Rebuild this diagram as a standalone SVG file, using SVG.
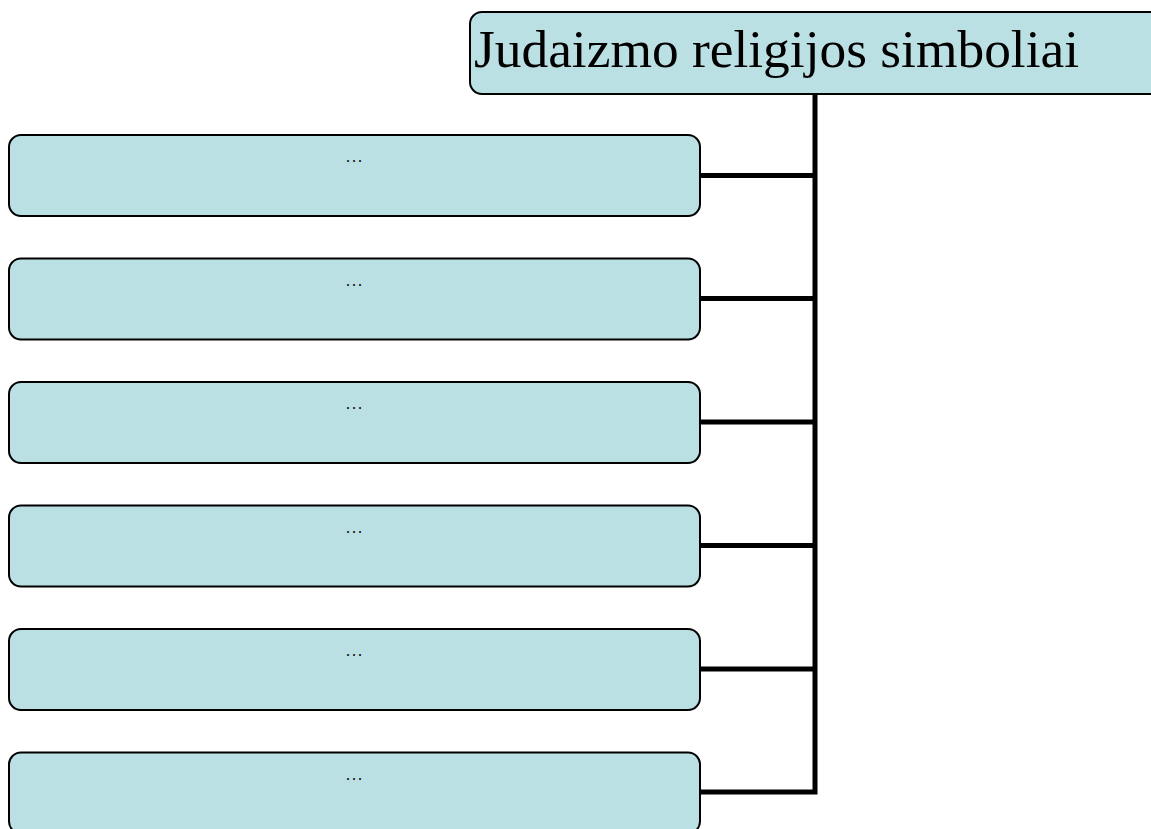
<svg xmlns="http://www.w3.org/2000/svg" width="1151" height="829" viewBox="0 0 1151 829">
<style>
.box{fill:#BBE0E3;stroke:#000;stroke-width:2}
.dots{font-family:"Liberation Serif",serif;font-size:16px;letter-spacing:2px;fill:#000;text-anchor:middle}
.title{font-family:"Liberation Serif",serif;font-size:53.4px;fill:#000}
.conn{fill:none;stroke:#000;stroke-width:5}
</style>
<rect width="1151" height="829" fill="#fff"/>
<g id="connectors">
<path class="conn" d="M815,94 V792 H700"/>
<path class="conn" d="M700,175.5 H815 M700,298.5 H815 M700,422 H815 M700,545.5 H815 M700,669 H815"/>
</g>
<g id="root">
<rect class="box" x="470" y="12" width="695" height="82" rx="12"/>
<text class="title" x="474" y="67">Judaizmo religijos simboliai</text>
</g>
<g id="n1"><rect class="box" x="9" y="135" width="691" height="81" rx="12"/><text class="dots" x="355" y="162">...</text></g>
<g id="n2"><rect class="box" x="9" y="258.5" width="691" height="81" rx="12"/><text class="dots" x="355" y="285.5">...</text></g>
<g id="n3"><rect class="box" x="9" y="382" width="691" height="81" rx="12"/><text class="dots" x="355" y="409">...</text></g>
<g id="n4"><rect class="box" x="9" y="505.5" width="691" height="81" rx="12"/><text class="dots" x="355" y="532.5">...</text></g>
<g id="n5"><rect class="box" x="9" y="629" width="691" height="81" rx="12"/><text class="dots" x="355" y="656">...</text></g>
<g id="n6"><rect class="box" x="9" y="752.5" width="691" height="81" rx="12"/><text class="dots" x="355" y="779.5">...</text></g>
</svg>
